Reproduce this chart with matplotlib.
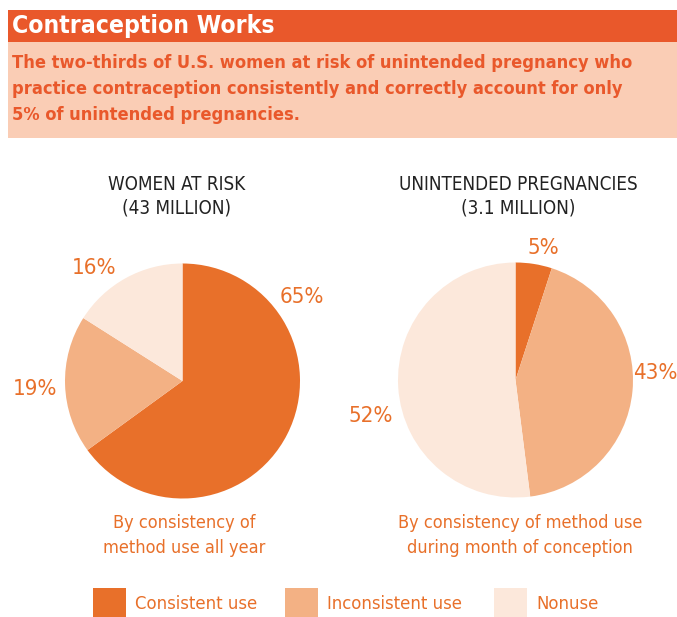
import matplotlib
matplotlib.use("Agg")
import matplotlib.pyplot as plt
from matplotlib.patches import Rectangle
import numpy as np

# data
categories = ["Consistent use", "Inconsistent use", "Nonuse"]
women_at_risk = [65, 19, 16]
unintended = [5, 43, 52]
colors = ["#E8702A", "#F3B184", "#FCE8DB"]

orange = "#E9582B"
peach = "#FACDB5"
label_c = "#E8702A"
plt.rcParams["font.family"] = "DejaVu Sans"
plt.rcParams["font.stretch"] = "condensed"

W, H = 677, 617
fig = plt.figure(figsize=(W / 100, H / 100), dpi=100)
ax = fig.add_axes([0, 0, 1, 1])

def Y(y):
    # pixel row -> data y
    return H - y

# header band and subtitle box
ax.add_patch(Rectangle((8, Y(42)), W - 8, 32, color=orange, lw=0))
ax.add_patch(Rectangle((8, Y(138)), W - 8, 96, color=peach, lw=0))
ax.text(12, Y(26), "Contraception Works", color="white", fontsize=17.7,
        fontweight="bold", va="center", ha="left", fontstretch="condensed")
sub = ["The two-thirds of U.S. women at risk of unintended pregnancy who",
       "practice contraception consistently and correctly account for only",
       "5% of unintended pregnancies."]
for i, line in enumerate(sub):
    ax.text(12, Y(63 + 26 * i), line, color=orange, fontsize=13.1,
            fontweight="bold", va="center", ha="left", fontstretch="condensed")

# pies
r = 117.5
pies = [
    (182.5, 381, 177, 184, women_at_risk, ["WOMEN AT RISK", "(43 MILLION)"],
     ["By consistency of", "method use all year"],
     [(35, 1.24), (183, 1.26), (128, 1.22)]),
    (515.5, 380, 518, 520, unintended, ["UNINTENDED PREGNANCIES", "(3.1 MILLION)"],
     ["By consistency of method use", "during month of conception"],
     [(78, 1.15), (3, 1.19), (194, 1.27)]),
]
for cx, cy, tx, capx, vals, title, caption, lpos in pies:
    ax.pie(vals, colors=colors, startangle=90, counterclock=False,
           center=(cx, Y(cy)), radius=r, frame=True,
           wedgeprops=dict(linewidth=0))
    for v, (ang, d) in zip(vals, lpos):
        a = np.deg2rad(ang)
        ax.text(cx + d * r * np.cos(a), Y(cy) + d * r * np.sin(a), f"{v}%",
                color=label_c, fontsize=16, ha="center", va="center",
                fontstretch="condensed")
    for j, t in enumerate(title):
        ax.text(tx, Y(184 + 24 * j), t, color="#222222", fontsize=13.5,
                ha="center", va="center", fontstretch="condensed")
    for j, t in enumerate(caption):
        ax.text(capx, Y(523 + 25 * j), t, color=label_c, fontsize=13,
                ha="center", va="center", fontstretch="condensed")

# legend
leg_x = [93, 285, 494]
for x0, name, c in zip(leg_x, categories, colors):
    ax.add_patch(Rectangle((x0, Y(617)), 33, 29, color=c, lw=0))
    ax.text(x0 + 42, Y(604), name, color=label_c, fontsize=13.2,
            ha="left", va="center", fontstretch="condensed")

ax.set_xlim(0, W)
ax.set_ylim(0, H)
ax.set_aspect("auto")
ax.axis("off")

fig.savefig("out.png", dpi=100)
